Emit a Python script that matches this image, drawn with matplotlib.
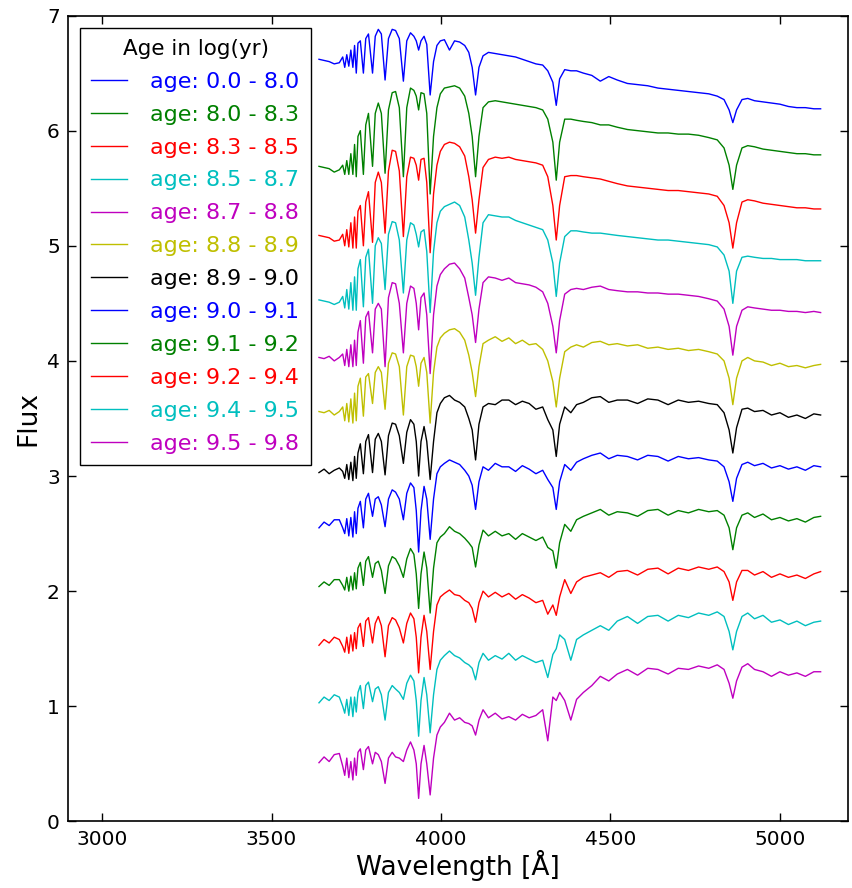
import numpy as np
import matplotlib
matplotlib.use('Agg')
import matplotlib.pyplot as plt

# wavelength grid [A], shared by all spectra
wave = [3640, 3655, 3670, 3685, 3700, 3710, 3716, 3722, 3728, 3734, 3740, 3745,
        3750, 3755, 3762, 3771, 3778, 3786, 3798, 3806, 3815, 3824, 3835, 3845,
        3856, 3866, 3877, 3889, 3899, 3910, 3920, 3927, 3934, 3941, 3950, 3958,
        3968, 3978, 3988, 3998, 4010, 4025, 4040, 4055, 4070, 4082, 4092, 4102,
        4112, 4124, 4140, 4160, 4180, 4200, 4220, 4240, 4260, 4280, 4300, 4315,
        4330, 4340, 4350, 4365, 4383, 4400, 4420, 4445, 4470, 4495, 4520, 4550,
        4580, 4610, 4640, 4670, 4700, 4730, 4760, 4790, 4815, 4835, 4850, 4861,
        4872, 4888, 4905, 4925, 4950, 4975, 5000, 5025, 5050, 5075, 5100, 5120]

labels = ['age: 0.0 - 8.0', 'age: 8.0 - 8.3', 'age: 8.3 - 8.5', 'age: 8.5 - 8.7',
          'age: 8.7 - 8.8', 'age: 8.8 - 8.9', 'age: 8.9 - 9.0', 'age: 9.0 - 9.1',
          'age: 9.1 - 9.2', 'age: 9.2 - 9.4', 'age: 9.4 - 9.5', 'age: 9.5 - 9.8']
colors = ['b', 'g', 'r', 'c', 'm', 'y', 'k', 'b', 'g', 'r', 'c', 'm']

# offset fluxes
flux_00_80 = [6.62, 6.61, 6.60, 6.58, 6.59, 6.64, 6.55, 6.66, 6.56, 6.70, 6.55, 6.74,
              6.50, 6.76, 6.78, 6.50, 6.80, 6.84, 6.50, 6.82, 6.88, 6.84, 6.44, 6.80,
              6.88, 6.87, 6.80, 6.43, 6.78, 6.85, 6.82, 6.78, 6.70, 6.78, 6.82, 6.75,
              6.31, 6.60, 6.74, 6.78, 6.79, 6.70, 6.78, 6.77, 6.74, 6.68, 6.55, 6.31,
              6.55, 6.65, 6.68, 6.67, 6.66, 6.65, 6.64, 6.62, 6.60, 6.58, 6.57, 6.52,
              6.42, 6.22, 6.45, 6.53, 6.52, 6.52, 6.50, 6.48, 6.43, 6.47, 6.44, 6.41,
              6.40, 6.39, 6.37, 6.36, 6.35, 6.34, 6.33, 6.32, 6.30, 6.27, 6.18, 6.07,
              6.18, 6.27, 6.28, 6.26, 6.25, 6.24, 6.23, 6.21, 6.20, 6.20, 6.19, 6.19]
flux_80_83 = [5.69, 5.68, 5.67, 5.64, 5.66, 5.70, 5.62, 5.74, 5.62, 5.80, 5.62, 5.88,
              5.60, 5.95, 6.00, 5.62, 6.05, 6.15, 5.69, 6.15, 6.24, 6.15, 5.63, 6.18,
              6.33, 6.34, 6.20, 5.60, 6.20, 6.37, 6.35, 6.30, 6.18, 6.33, 6.32, 6.15,
              5.45, 5.95, 6.20, 6.32, 6.37, 6.38, 6.39, 6.37, 6.30, 6.15, 5.95, 5.60,
              5.95, 6.20, 6.25, 6.26, 6.25, 6.24, 6.23, 6.22, 6.21, 6.20, 6.18, 6.10,
              5.90, 5.57, 5.90, 6.10, 6.10, 6.09, 6.08, 6.07, 6.05, 6.05, 6.03, 6.01,
              6.00, 5.99, 5.98, 5.98, 5.97, 5.97, 5.96, 5.94, 5.92, 5.85, 5.70, 5.49,
              5.70, 5.85, 5.87, 5.86, 5.84, 5.83, 5.82, 5.81, 5.80, 5.80, 5.79, 5.79]
flux_83_85 = [5.09, 5.08, 5.07, 5.04, 5.05, 5.10, 5.00, 5.14, 4.99, 5.20, 4.98, 5.25,
              4.98, 5.30, 5.35, 5.00, 5.38, 5.47, 5.03, 5.55, 5.64, 5.55, 5.11, 5.65,
              5.83, 5.82, 5.65, 5.08, 5.60, 5.77, 5.76, 5.70, 5.57, 5.75, 5.76, 5.55,
              4.94, 5.45, 5.70, 5.82, 5.88, 5.90, 5.89, 5.86, 5.78, 5.60, 5.40, 5.11,
              5.40, 5.68, 5.75, 5.77, 5.76, 5.77, 5.75, 5.74, 5.73, 5.72, 5.70, 5.60,
              5.35, 5.05, 5.35, 5.60, 5.61, 5.61, 5.60, 5.59, 5.58, 5.56, 5.54, 5.52,
              5.51, 5.50, 5.49, 5.48, 5.48, 5.47, 5.46, 5.45, 5.43, 5.35, 5.20, 4.98,
              5.20, 5.38, 5.40, 5.39, 5.37, 5.36, 5.35, 5.34, 5.33, 5.33, 5.32, 5.32]
flux_85_87 = [4.53, 4.52, 4.51, 4.49, 4.51, 4.56, 4.46, 4.62, 4.45, 4.68, 4.44, 4.73,
              4.44, 4.80, 4.88, 4.47, 4.90, 4.97, 4.50, 5.00, 5.07, 5.02, 4.62, 5.10,
              5.21, 5.20, 5.05, 4.59, 5.05, 5.20, 5.18, 5.10, 4.99, 5.12, 5.14, 4.95,
              4.42, 4.95, 5.20, 5.30, 5.34, 5.36, 5.38, 5.35, 5.25, 5.05, 4.85, 4.57,
              4.90, 5.20, 5.27, 5.26, 5.25, 5.25, 5.22, 5.20, 5.18, 5.16, 5.14, 5.05,
              4.85, 4.56, 4.85, 5.08, 5.13, 5.13, 5.12, 5.11, 5.11, 5.10, 5.09, 5.08,
              5.07, 5.06, 5.05, 5.05, 5.04, 5.03, 5.02, 5.01, 4.99, 4.92, 4.78, 4.50,
              4.78, 4.90, 4.91, 4.90, 4.89, 4.89, 4.88, 4.88, 4.88, 4.87, 4.87, 4.87]
flux_87_88 = [4.03, 4.02, 4.04, 4.00, 4.03, 4.06, 3.96, 4.10, 3.95, 4.14, 3.95, 4.18,
              3.96, 4.25, 4.35, 3.98, 4.38, 4.43, 4.07, 4.45, 4.50, 4.45, 3.95, 4.55,
              4.68, 4.67, 4.50, 4.07, 4.50, 4.65, 4.63, 4.50, 4.27, 4.55, 4.59, 4.40,
              3.89, 4.40, 4.65, 4.75, 4.80, 4.84, 4.85, 4.80, 4.72, 4.55, 4.40, 4.16,
              4.45, 4.68, 4.73, 4.72, 4.70, 4.72, 4.68, 4.67, 4.66, 4.64, 4.60, 4.50,
              4.30, 4.07, 4.35, 4.58, 4.62, 4.63, 4.62, 4.64, 4.65, 4.62, 4.61, 4.60,
              4.60, 4.59, 4.59, 4.58, 4.58, 4.57, 4.56, 4.54, 4.52, 4.45, 4.30, 4.05,
              4.30, 4.44, 4.47, 4.46, 4.45, 4.44, 4.44, 4.43, 4.43, 4.42, 4.43, 4.42]
flux_88_89 = [3.56, 3.55, 3.57, 3.53, 3.56, 3.60, 3.48, 3.63, 3.47, 3.67, 3.46, 3.72,
              3.48, 3.78, 3.85, 3.52, 3.86, 3.89, 3.63, 3.90, 3.95, 3.90, 3.58, 3.98,
              4.07, 4.06, 3.95, 3.53, 3.95, 4.05, 4.04, 3.95, 3.78, 3.98, 4.03, 3.90,
              3.46, 3.90, 4.12, 4.20, 4.24, 4.27, 4.28, 4.25, 4.18, 4.05, 3.90, 3.69,
              3.95, 4.15, 4.18, 4.21, 4.17, 4.20, 4.15, 4.18, 4.14, 4.15, 4.10, 4.00,
              3.82, 3.60, 3.85, 4.08, 4.12, 4.14, 4.12, 4.16, 4.17, 4.14, 4.15, 4.13,
              4.14, 4.11, 4.12, 4.10, 4.11, 4.09, 4.10, 4.08, 4.06, 4.00, 3.85, 3.62,
              3.85, 4.00, 4.03, 4.00, 3.99, 3.96, 3.98, 3.95, 3.96, 3.94, 3.96, 3.97]
flux_89_90 = [3.03, 3.06, 3.02, 3.05, 3.07, 3.04, 2.98, 3.10, 2.97, 3.12, 2.96, 3.17,
              2.98, 3.20, 3.28, 3.02, 3.30, 3.36, 3.03, 3.32, 3.37, 3.30, 3.01, 3.35,
              3.46, 3.45, 3.35, 3.11, 3.38, 3.49, 3.45, 3.30, 3.00, 3.30, 3.43, 3.30,
              2.97, 3.30, 3.55, 3.63, 3.68, 3.70, 3.66, 3.64, 3.60, 3.50, 3.40, 3.14,
              3.45, 3.60, 3.63, 3.62, 3.66, 3.66, 3.62, 3.65, 3.63, 3.58, 3.60, 3.49,
              3.40, 3.17, 3.45, 3.60, 3.55, 3.62, 3.64, 3.68, 3.69, 3.64, 3.66, 3.66,
              3.63, 3.67, 3.66, 3.62, 3.66, 3.64, 3.65, 3.63, 3.62, 3.55, 3.40, 3.20,
              3.42, 3.58, 3.59, 3.56, 3.57, 3.53, 3.55, 3.51, 3.53, 3.50, 3.54, 3.53]
flux_90_91 = [2.55, 2.60, 2.57, 2.62, 2.62, 2.55, 2.50, 2.63, 2.48, 2.64, 2.47, 2.69,
              2.50, 2.72, 2.78, 2.55, 2.80, 2.85, 2.65, 2.80, 2.82, 2.75, 2.56, 2.80,
              2.88, 2.86, 2.80, 2.62, 2.85, 2.94, 2.90, 2.70, 2.34, 2.70, 2.91, 2.80,
              2.45, 2.80, 3.02, 3.08, 3.11, 3.14, 3.12, 3.10, 3.05, 3.00, 2.92, 2.71,
              2.95, 3.08, 3.05, 3.11, 3.08, 3.08, 3.04, 3.09, 3.06, 3.02, 3.05, 2.97,
              2.90, 2.71, 2.95, 3.10, 3.05, 3.12, 3.15, 3.18, 3.20, 3.15, 3.18, 3.17,
              3.14, 3.18, 3.17, 3.13, 3.17, 3.15, 3.16, 3.14, 3.13, 3.08, 2.95, 2.78,
              2.98, 3.10, 3.12, 3.09, 3.11, 3.07, 3.09, 3.06, 3.08, 3.05, 3.09, 3.08]
flux_91_92 = [2.04, 2.08, 2.05, 2.10, 2.10, 2.05, 2.01, 2.12, 2.00, 2.13, 2.01, 2.16,
              2.02, 2.20, 2.25, 2.05, 2.26, 2.30, 2.12, 2.24, 2.26, 2.18, 1.98, 2.22,
              2.30, 2.28, 2.22, 2.12, 2.28, 2.37, 2.32, 2.15, 1.85, 2.15, 2.34, 2.20,
              1.81, 2.20, 2.42, 2.47, 2.50, 2.56, 2.52, 2.50, 2.46, 2.42, 2.38, 2.21,
              2.40, 2.53, 2.48, 2.52, 2.48, 2.50, 2.45, 2.50, 2.47, 2.44, 2.47, 2.38,
              2.35, 2.20, 2.42, 2.58, 2.52, 2.62, 2.65, 2.68, 2.71, 2.66, 2.69, 2.68,
              2.65, 2.70, 2.71, 2.66, 2.70, 2.68, 2.71, 2.69, 2.70, 2.66, 2.55, 2.36,
              2.55, 2.66, 2.68, 2.64, 2.67, 2.62, 2.64, 2.61, 2.63, 2.60, 2.64, 2.65]
flux_92_94 = [1.53, 1.58, 1.55, 1.60, 1.58, 1.52, 1.47, 1.60, 1.46, 1.62, 1.48, 1.64,
              1.50, 1.68, 1.72, 1.52, 1.74, 1.77, 1.55, 1.72, 1.78, 1.70, 1.43, 1.70,
              1.77, 1.75, 1.68, 1.55, 1.72, 1.81, 1.76, 1.60, 1.29, 1.60, 1.79, 1.65,
              1.32, 1.65, 1.88, 1.95, 1.98, 2.01, 1.97, 1.96, 1.92, 1.90, 1.85, 1.73,
              1.90, 2.00, 1.95, 1.99, 1.95, 1.98, 1.93, 1.97, 1.94, 1.90, 1.92, 1.80,
              1.88, 1.79, 1.95, 2.10, 1.98, 2.08, 2.12, 2.14, 2.16, 2.12, 2.17, 2.18,
              2.14, 2.19, 2.20, 2.15, 2.20, 2.18, 2.21, 2.19, 2.21, 2.17, 2.08, 1.92,
              2.08, 2.18, 2.18, 2.14, 2.17, 2.12, 2.15, 2.12, 2.14, 2.11, 2.15, 2.17]
flux_94_95 = [1.03, 1.08, 1.05, 1.10, 1.08, 1.00, 0.94, 1.06, 0.92, 1.08, 0.91, 1.08,
              0.95, 1.12, 1.18, 0.98, 1.18, 1.21, 1.04, 1.15, 1.17, 1.10, 0.88, 1.12,
              1.18, 1.15, 1.12, 1.06, 1.20, 1.27, 1.22, 1.05, 0.74, 1.05, 1.25, 1.10,
              0.77, 1.10, 1.32, 1.40, 1.44, 1.48, 1.44, 1.42, 1.38, 1.36, 1.33, 1.23,
              1.38, 1.46, 1.40, 1.44, 1.41, 1.46, 1.40, 1.44, 1.41, 1.38, 1.40, 1.25,
              1.45, 1.50, 1.62, 1.58, 1.40, 1.58, 1.62, 1.66, 1.70, 1.66, 1.74, 1.78,
              1.72, 1.78, 1.79, 1.74, 1.79, 1.77, 1.81, 1.79, 1.82, 1.78, 1.65, 1.49,
              1.65, 1.78, 1.81, 1.76, 1.79, 1.73, 1.75, 1.71, 1.74, 1.70, 1.73, 1.74]
flux_95_98 = [0.51, 0.56, 0.52, 0.58, 0.59, 0.48, 0.40, 0.55, 0.38, 0.52, 0.36, 0.55,
              0.40, 0.60, 0.63, 0.45, 0.62, 0.65, 0.50, 0.60, 0.58, 0.52, 0.33, 0.55,
              0.60, 0.56, 0.55, 0.52, 0.62, 0.69, 0.62, 0.50, 0.20, 0.50, 0.66, 0.50,
              0.23, 0.55, 0.75, 0.82, 0.86, 0.94, 0.88, 0.90, 0.86, 0.85, 0.83, 0.75,
              0.88, 0.97, 0.90, 0.94, 0.89, 0.91, 0.88, 0.93, 0.90, 0.92, 0.97, 0.70,
              1.08, 1.05, 1.12, 1.05, 0.88, 1.06, 1.12, 1.18, 1.26, 1.22, 1.28, 1.32,
              1.27, 1.33, 1.32, 1.28, 1.33, 1.32, 1.35, 1.33, 1.36, 1.32, 1.20, 1.07,
              1.22, 1.34, 1.37, 1.32, 1.30, 1.26, 1.30, 1.27, 1.29, 1.26, 1.30, 1.30]

spectra = [flux_00_80, flux_80_83, flux_83_85, flux_85_87, flux_87_88, flux_88_89,
           flux_89_90, flux_90_91, flux_91_92, flux_92_94, flux_94_95, flux_95_98]

#%% plot

fig = plt.figure(figsize=(8.52, 8.88), dpi=100)
ax = fig.add_axes([0.080, 0.075, 0.915, 0.9075])

for flux, lab, col in zip(spectra, labels, colors):
    ax.plot(wave, flux, '-', color=col, lw=1.0, label=lab)

ax.set_xlim(2900, 5200)
ax.set_ylim(0, 7)
ax.set_xticks([3000, 3500, 4000, 4500, 5000])
ax.set_yticks(np.arange(0, 8, 1))
ax.tick_params(direction='in', length=6, width=1, top=True, right=True,
               labelsize=14.5, pad=6)
for sp in ax.spines.values():
    sp.set_linewidth(1.2)

ax.set_xlabel('Wavelength [Å]', fontsize=19, labelpad=1)
ax.set_ylabel('Flux', fontsize=19)

leg = ax.legend(loc='upper left', title='Age in log(yr)', fontsize=16,
                title_fontsize=15.5, fancybox=False, framealpha=1,
                edgecolor='k', handlelength=1.6, handletextpad=1.05,
                labelspacing=0.58, borderpad=0.5, borderaxespad=0.55)
leg.get_frame().set_linewidth(1.0)
for txt, col in zip(leg.get_texts(), colors):
    txt.set_color(col)

fig.savefig('out.png', dpi=100)
